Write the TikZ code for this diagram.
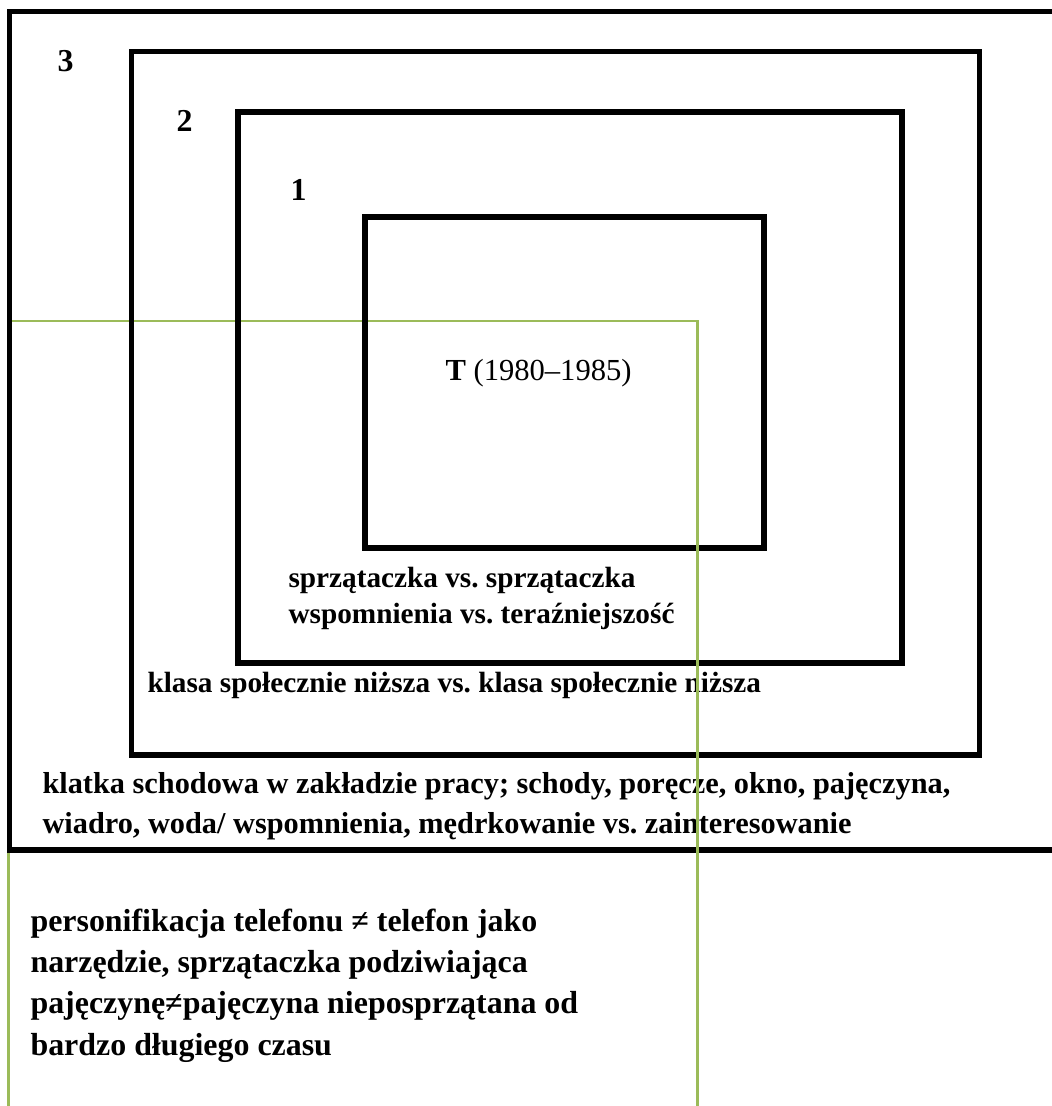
\documentclass[tikz,border=0pt]{standalone}
\usepackage{fontspec}
\setmainfont{Liberation Serif}
\frenchspacing
\definecolor{BoxGreen}{HTML}{9BBB59}
\tikzset{
  frm/.style={draw=black,line width=1.9pt},
  gbox/.style={draw=BoxGreen,line width=0.9pt},
  lbl/.style={anchor=base west,inner sep=0pt,font=\fontsize{11}{13}\selectfont\bfseries},
  wlbl/.style={lbl,font=\fontsize{11.4}{13.5}\selectfont\bfseries},
  num/.style={lbl,font=\fontsize{12}{14}\selectfont\bfseries},
  glbl/.style={lbl,font=\fontsize{12}{14}\selectfont\bfseries}
}

\begin{document}
\begin{tikzpicture}[x=0.376pt,y=-0.376pt]
  \useasboundingbox (0,0) rectangle (1052,1106);
  \clip (0,0) rectangle (1052,1106);

  % text box at the back
  \draw[gbox] (8.5,1120) -- (8.5,321) -- (697.5,321) -- (697.5,1120);

  % nested frames
  \draw[frm] (9.5,11.5) rectangle (1070,850);
  \draw[frm] (131.5,51.5) rectangle (979.5,755);
  \draw[frm] (238,112) rectangle (902,663);
  \draw[frm] (365,217) rectangle (764,548);

  \node[num] (n3) at (57,71) {3};
  \node[num] (n2) at (176,131) {2};
  \node[num] (n1) at (290,200) {1};

  \node[lbl,font=\fontsize{11.5}{14}\selectfont] (t) at (445,380) {\textbf{T} (1980–1985)};

  \node[lbl] (s1) at (288,587) {sprzątaczka vs. sprzątaczka};
  \node[lbl] (s2) at (288,623) {wspomnienia vs. teraźniejszość};
  \node[lbl] (k) at (147,692) {klasa społecznie niższa vs. klasa społecznie niższa};
  \node[wlbl] (w1) at (42,793) {klatka schodowa w zakładzie pracy; schody, poręcze, okno, pajęczyna,};
  \node[wlbl] (w2) at (42,833) {wiadro, woda/ wspomnienia, mędrkowanie vs. zainteresowanie};

  \node[glbl] (g1) at (30,931) {personifikacja telefonu ≠ telefon jako};
  \node[glbl] (g2) at (30,972) {narzędzie, sprzątaczka podziwiająca};
  \node[glbl] (g3) at (30,1013) {pajęczynę≠pajęczyna nieposprzątana od};
  \node[glbl] (g4) at (30,1055) {bardzo długiego czasu};

  % right edge of the text box lies over the frames
  \draw[gbox] (697.5,321) -- (697.5,1120);
\end{tikzpicture}
\end{document}
